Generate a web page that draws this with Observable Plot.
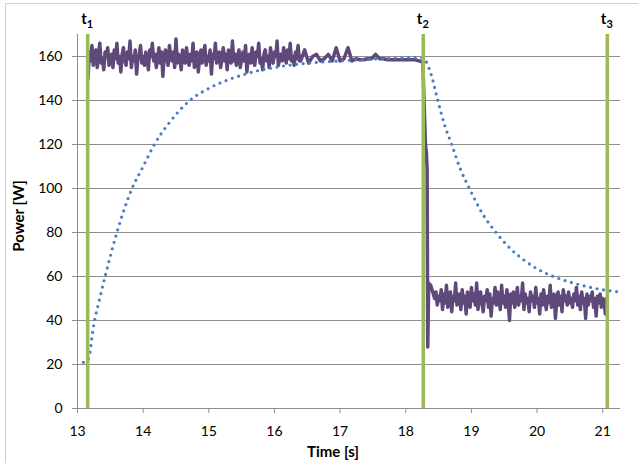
<!DOCTYPE html>
<html><head><meta charset="utf-8">
<script src="https://cdn.jsdelivr.net/npm/d3@7"></script>
<script src="https://cdn.jsdelivr.net/npm/@observablehq/plot@0.6"></script>
<style>
html,body{margin:0;padding:0;background:#fff;}
#chart svg{display:block;}
</style>
</head><body><div id="chart"></div>
<script>
// ---- tick labels / categories ----
const xTicks = [13, 14, 15, 16, 17, 18, 19, 20, 21];
const yTicks = [0, 20, 40, 60, 80, 100, 120, 140, 160];
const yGrid = [20, 40, 60, 80, 100, 120, 140, 160];
const xTitle = "Time [s]";
const yTitle = "Power [W]";

// ---- event markers t1, t2, t3 ----
const eventTimes = [13.155, 18.267, 21.07];
const eventSubs = ["1", "2", "3"];

// ---- measured power (purple), sampled segments ----
const powerSeg1Start = 13.16, powerSeg1Step = 0.02;
const powerSeg1 = [
  150, 162, 158, 165, 156, 160, 163, 155, 161, 166,
  157, 159, 154, 162, 160, 164, 156, 158, 161, 155,
  163, 159, 166, 157, 160, 153, 161, 164, 158, 156,
  162, 159, 167, 155, 160, 158, 163, 152, 159, 161,
  165, 157, 160, 156, 162, 159, 154, 163, 160, 166,
  158, 161, 155, 159, 164, 157, 162, 151, 160, 163,
  159, 156, 165, 160, 158, 162, 155, 168, 157, 161,
  159, 154, 163, 160, 157, 164, 159, 156, 161, 158,
  166, 155, 160, 162, 153, 159, 163, 157, 161, 165,
  156, 160, 158, 163, 152, 161, 159, 166, 157, 160,
  162, 155, 159, 164, 158, 161, 154, 163, 160, 157,
  167, 158, 161, 156, 160, 163, 155, 159, 162, 158,
  165, 153, 160, 161, 157, 164, 159, 156, 162, 160,
  166, 157, 159, 154, 161, 163, 158, 160, 155, 164,
  159, 157, 162, 160, 167, 156, 159, 161, 158, 164,
  160, 157, 163, 159, 166, 158, 160, 156, 162, 159,
  165, 158, 160
];
const powerSeg2Start = 16.40, powerSeg2Step = 0.06;
const powerSeg2 = [
  158, 163, 157, 160, 161, 158, 159, 161, 158, 164,
  158, 159, 164, 158, 159, 158.5, 158.5, 159, 159, 161,
  159, 159, 158.5, 158.5, 158.5, 158.5, 158.5, 158.5, 158.5, 158.5,
  158, 157.5
];
const dropTimes = [18.30, 18.315, 18.325, 18.335, 18.35];
const dropValues = [120, 116, 109, 28, 57];
const powerSeg3Start = 18.38, powerSeg3Step = 0.02;
const powerSeg3 = [
  56, 54, 52, 50, 53, 47, 51, 49, 54, 45,
  52, 48, 56, 46, 50, 53, 44, 51, 49, 57,
  47, 50, 52, 45, 54, 48, 51, 43, 53, 50,
  46, 55, 49, 52, 47, 57, 45, 50, 53, 48,
  44, 51, 49, 54, 46, 52, 42, 50, 48, 55,
  47, 53, 50, 45, 56, 48, 51, 46, 54, 49,
  40, 52, 48, 53, 46, 50, 55, 47, 51, 49,
  57, 45, 52, 48, 50, 44, 53, 49, 51, 46,
  55, 48, 50, 43, 52, 47, 54, 49, 45, 51,
  48, 56, 46, 50, 52, 41, 49, 53, 47, 51,
  44, 54, 49, 51, 47, 53, 48, 50, 46, 52,
  49, 55, 47, 51, 45, 53, 48, 50, 41, 52,
  47, 51, 49, 53, 46, 50, 42, 51, 48, 52,
  46, 50, 49, 43, 50
];

// ---- model / reference curve (blue dotted) ----
const modelTimes = [13.09, 13.165, 13.25, 13.33, 13.42, 13.60, 13.83, 14.00, 14.17, 14.40,
  14.71, 15.00, 15.30, 15.56, 15.78, 16.00, 16.21, 16.64, 17.00, 17.35,
  17.80, 18.17, 18.27, 18.385, 18.48, 18.59, 18.70, 18.83, 18.97, 19.17,
  19.375, 19.60, 19.80, 20.00, 20.25, 20.50, 20.75, 21.035, 21.26];
const modelValues = [21, 22.5, 38.5, 49, 60, 80, 100, 110, 120, 130,
  140, 145.5, 149.5, 152, 153.8, 155, 156, 157.3, 158, 158.6,
  159.2, 159.5, 159, 152, 141, 129, 120, 109, 100, 88.5,
  80, 72.5, 67.5, 63.5, 60, 57.5, 55.5, 53.8, 53];

// ---- build tables ----
const powerData = [];
powerSeg1.forEach((p, i) => powerData.push({t: powerSeg1Start + i * powerSeg1Step, p}));
powerSeg2.forEach((p, i) => powerData.push({t: powerSeg2Start + i * powerSeg2Step, p}));
dropTimes.forEach((t, i) => powerData.push({t, p: dropValues[i]}));
powerSeg3.forEach((p, i) => powerData.push({t: powerSeg3Start + i * powerSeg3Step, p}));
const modelData = modelTimes.map((t, i) => ({t, p: modelValues[i]}));

const FONT = "Lato, 'Open Sans', 'Liberation Sans', sans-serif";
const GRID = "#8e8e8e";

const chart = Plot.plot({
  width: 638,
  height: 463,
  marginLeft: 77,
  marginRight: 18,
  marginTop: 34,
  marginBottom: 55,
  x: {domain: [13, 21.271]},
  y: {domain: [0, 170]},
  style: {fontFamily: FONT, fontSize: "14px", color: "#000", background: "transparent", overflow: "visible"},
  marks: [
    Plot.ruleY(yGrid, {stroke: GRID, strokeWidth: 1}),
    Plot.ruleY([0], {stroke: GRID, strokeWidth: 1}),
    Plot.ruleX([13], {stroke: GRID, strokeWidth: 1}),
    Plot.axisY(yTicks, {tickSize: 5, tickPadding: 10, stroke: GRID, label: null, fontSize: 14}),
    Plot.axisX(xTicks, {tickSize: 5, tickPadding: 13, stroke: GRID, label: null, fontSize: 14}),
    Plot.line(powerData, {x: "t", y: "p", stroke: "#5f497a", strokeWidth: 3.5, strokeLinejoin: "round"}),
    Plot.line(modelData, {x: "t", y: "p", stroke: "#4a7dc0", strokeWidth: 3.2, strokeDasharray: "0 6.6", strokeLinecap: "round", curve: "monotone-x"}),
    Plot.ruleX(eventTimes, {stroke: "#9bbb59", strokeWidth: 3.6})
  ]
});

document.getElementById("chart").appendChild(chart);

const svg = d3.select(chart);
const xs = chart.scale("x");

// chart-area border (left and top visible)
svg.insert("path", ":first-child")
  .attr("d", "M5.5,463V3.5H638")
  .attr("fill", "none")
  .attr("stroke", "#d0d0d0")
  .attr("stroke-width", 1);

// axis titles
svg.append("text")
  .attr("transform", "translate(24,216) rotate(-90)")
  .attr("text-anchor", "middle")
  .attr("font-family", FONT)
  .attr("font-weight", "bold")
  .attr("font-size", 15)
  .attr("fill", "#000")
  .text(yTitle);

svg.append("text")
  .attr("x", 333)
  .attr("y", 457)
  .attr("text-anchor", "middle")
  .attr("font-family", FONT)
  .attr("font-weight", "bold")
  .attr("font-size", 15)
  .attr("fill", "#000")
  .text(xTitle);

// event labels t1, t2, t3
eventTimes.forEach((t, i) => {
  const txt = svg.append("text")
    .attr("x", xs.apply(t))
    .attr("y", 24)
    .attr("text-anchor", "middle")
    .attr("font-family", FONT)
    .attr("font-weight", "bold")
    .attr("font-size", 15)
    .attr("fill", "#000");
  txt.append("tspan").text("t");
  txt.append("tspan").attr("dy", 4).attr("font-size", 11).text(eventSubs[i]);
});
</script>
</body></html>
